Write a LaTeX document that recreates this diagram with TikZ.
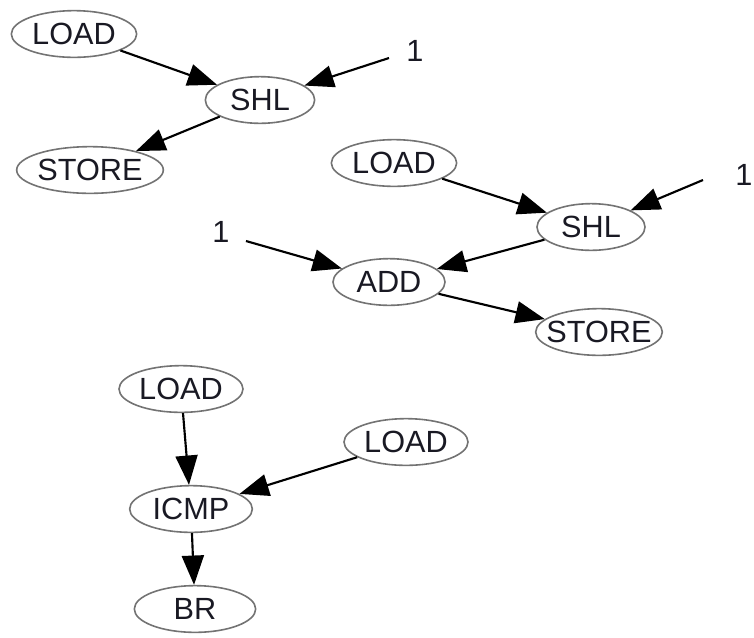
\documentclass[tikz,border=0pt]{standalone}
\usepackage{fontspec}
\setmainfont{Liberation Sans}
\usetikzlibrary{shapes.geometric,arrows.meta}

\definecolor{rim}{RGB}{115,115,115}
\definecolor{ink}{RGB}{25,25,35}

% label of zero width, so that the ellipse keeps its given size
\newcommand{\opname}[1]{\makebox[0pt][c]{#1}}

\tikzset{
  op/.style={ellipse, draw=rim, line width=1.2pt, inner sep=0pt, text=ink,
             minimum height=35pt, font=\fontsize{23}{25}\selectfont},
  lit/.style={inner sep=0pt, text=ink, font=\fontsize{23}{25}\selectfont},
  edge/.style={line width=1.6pt, -{Triangle[length=22pt,width=16.5pt]}}
}

\begin{document}
\begin{tikzpicture}[x=0.75pt, y=-0.75pt]
  \useasboundingbox (0,0) rectangle (754,637);

  % first graph: LOAD << 1 -> STORE
  \node[op, minimum width=94pt]  (load1)  at (74,34)   {\opname{LOAD}};
  \node[op, minimum width=82pt]  (shl1)   at (260,100) {\opname{SHL}};
  \node[op, minimum width=110pt] (store1) at (90,170)  {\opname{STORE}};
  \node[lit] (one1) at (415,51) {1};
  \coordinate (one1e) at (389,58);

  \draw[edge] (load1) -- (shl1);
  \draw[edge] (one1e) -- (shl1);
  \draw[edge] (shl1) -- (store1);

  % second graph: (LOAD << 1) + 1 -> STORE
  \node[op, minimum width=94pt]  (load2)  at (394,163) {\opname{LOAD}};
  \node[op, minimum width=81pt]  (shl2)   at (591,227) {\opname{SHL}};
  \node[op, minimum width=84pt]  (add)    at (389,282) {\opname{ADD}};
  \node[op, minimum width=95pt]  (store2) at (599,332) {\opname{STORE}};
  \node[lit] (one2) at (744,175) {1};
  \node[lit] (one3) at (221,232) {1};
  \coordinate (one2e) at (703,180);
  \coordinate (one3e) at (246,241);

  \draw[edge] (load2) -- (shl2);
  \draw[edge] (one2e) -- (shl2);
  \draw[edge] (shl2) -- (add);
  \draw[edge] (one3e) -- (add);
  \draw[edge] (add) -- (store2);

  % third graph: compare two loads, then branch
  \node[op, minimum width=93pt]  (load3) at (181,389) {\opname{LOAD}};
  \node[op, minimum width=93pt]  (load4) at (406,442) {\opname{LOAD}};
  \node[op, minimum width=92pt]  (icmp)  at (191,509) {\opname{ICMP}};
  \node[op, minimum width=91pt]  (br)    at (195,609) {\opname{BR}};

  \draw[edge] (load3) -- (icmp);
  \draw[edge] (load4) -- (icmp);
  \draw[edge] (icmp) -- (br);
\end{tikzpicture}
\end{document}
